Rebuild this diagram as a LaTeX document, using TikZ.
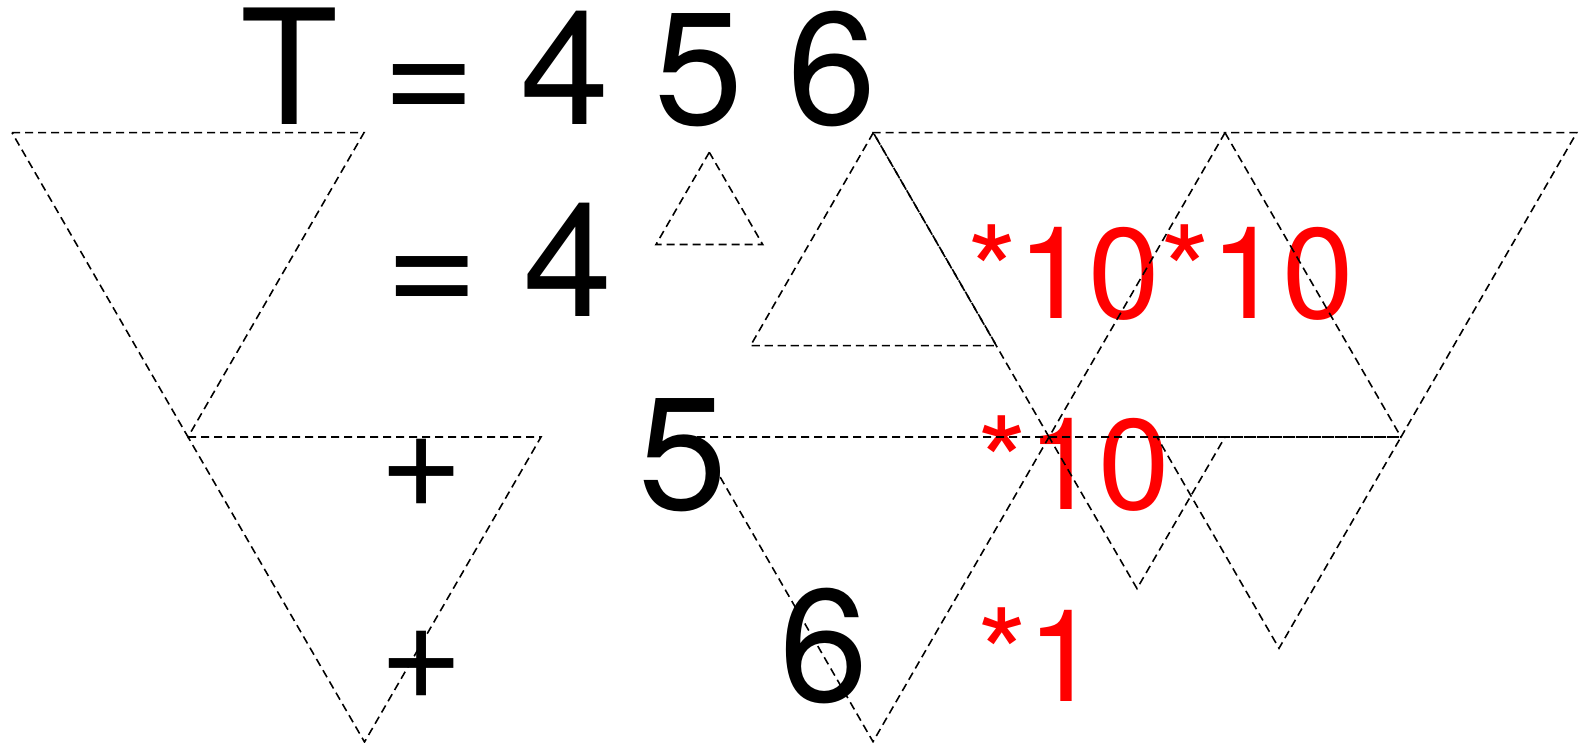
\documentclass[tikz,border=0pt]{standalone}
\usepackage{fontspec}
\setmainfont{TeX Gyre Heros}
\begin{document}
\begin{tikzpicture}[
    big/.style={inner sep=0pt, anchor=base west, font=\fontsize{45.5}{50}\selectfont},
    small/.style={inner sep=0pt, anchor=base west, font=\fontsize{36.6}{40}\selectfont},
    sign/.style={inner sep=0pt, anchor=center, font=\fontsize{41}{45}\selectfont},
    factor/.style={small, text=red},
    tri/.style={line width=0.45pt, dash pattern=on 2.3pt off 1.4pt},
]
\useasboundingbox (0,0) rectangle (15.82,-7.43);
\node[big] (total) at (2.40,-1.25) {T = 4 5 6};
\node[big] (hundreds) at (3.845,-3.167) {= 4};
\node[sign] (plusa) at (4.217,-4.734) {+};
\node[big] (tens) at (6.38,-5.095) {5};
\node[sign] (plusb) at (4.217,-6.653) {+};
\node[big] (ones) at (7.79,-7.02) {6};
\node[factor] (fhundreds) at (9.667,-3.183) {*10*10};
\node[factor] (ftens) at (9.767,-5.10) {*10};
\node[factor] (fones) at (9.767,-7.017) {*1};
\draw[tri] (0.12,-1.327) -- (3.64,-1.327) -- (1.88,-4.37) -- cycle;
\draw[tri] (1.88,-4.37) -- (5.41,-4.37) -- (3.645,-7.42) -- cycle;
\draw[tri] (7.093,-1.523) -- (6.56,-2.445) -- (7.627,-2.445) -- cycle;
\draw[tri] (8.733,-1.327) -- (7.505,-3.457) -- (9.965,-3.457) -- cycle;
\draw[tri] (12.25,-1.327) -- (10.49,-4.37) -- (8.733,-1.327) -- cycle;
\draw[tri] (12.25,-1.327) -- (14.01,-4.37) -- (15.767,-1.327) -- cycle;
\draw[tri] (10.49,-4.37) -- (14.01,-4.37);
\draw[tri] (6.97,-4.37) -- (10.49,-4.37) -- (8.73,-7.417) -- cycle;
\draw[tri] (10.49,-4.37) -- (12.25,-4.37) -- (11.37,-5.886) -- cycle;
\draw[tri] (11.57,-4.37) -- (14.01,-4.37) -- (12.79,-6.483) -- cycle;
\end{tikzpicture}
\end{document}
